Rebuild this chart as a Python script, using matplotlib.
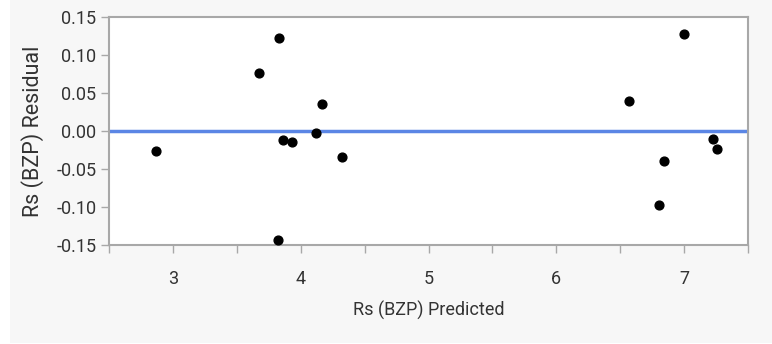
import matplotlib.pyplot as plt
from matplotlib.patches import Rectangle

# predicted vs residual values
predicted = [2.87, 3.67, 3.83, 3.86, 3.93, 4.12, 4.17, 4.32, 3.82,
             7.00, 6.57, 7.23, 7.26, 6.84, 6.80]
residual = [-0.026, 0.076, 0.122, -0.012, -0.0145, -0.002, 0.035, -0.034, -0.144,
            0.127, 0.040, -0.0105, -0.024, -0.039, -0.097]

xticks = [3, 4, 5, 6, 7]
yticks = [-0.15, -0.10, -0.05, 0.00, 0.05, 0.10, 0.15]

plt.rcParams['font.family'] = ['Roboto', 'DejaVu Sans']

fig = plt.figure(figsize=(7.72, 3.44), dpi=100)
fig.patch.set_facecolor('white')
# light gray report panel behind the plot
fig.patches.append(Rectangle((10 / 772, 1 / 344), 1 - 10 / 772, 1 - 1 / 344,
                             transform=fig.transFigure, facecolor='#f7f7f7',
                             edgecolor='none', zorder=-1))

ax = fig.add_axes([109 / 772, 1 - 245 / 344, (748 - 109) / 772, (245 - 17) / 344])
ax.set_facecolor('white')

ax.axhline(0, color='#5b86e5', lw=2.5, zorder=2)
ax.scatter(predicted, residual, s=40, color='black', zorder=3)

ax.set_xlim(2.5, 7.5)
ax.set_ylim(-0.15, 0.15)
ax.set_xticks(xticks)
ax.set_xticks([2.5, 3.5, 4.5, 5.5, 6.5, 7.5], minor=True)
ax.set_yticks(yticks)
ax.set_yticklabels([f'{v:.2f}' for v in yticks])

for s in ax.spines.values():
    s.set_color('#a8a8a8')
    s.set_linewidth(1.5)

ax.tick_params(axis='both', which='major', length=6, width=1, color='#a8a8a8',
               labelsize=13, labelcolor='#333333', pad=3)
ax.tick_params(axis='x', which='minor', length=6, width=1, color='#a8a8a8')
ax.tick_params(axis='x', pad=12)

ax.set_xlabel('Rs (BZP) Predicted', fontsize=13, color='#333333', labelpad=9)
ax.set_ylabel('Rs (BZP) Residual', fontsize=15.5, color='#333333', labelpad=9)

fig.savefig('out.png', dpi=100, facecolor=fig.get_facecolor())
